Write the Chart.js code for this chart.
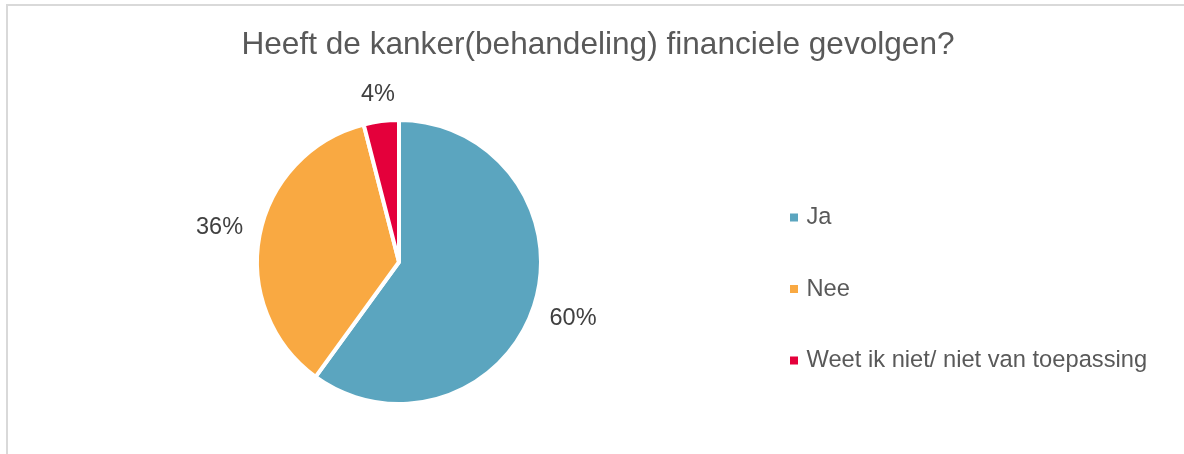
<!DOCTYPE html>
<html lang="nl">
<head>
    <meta charset="UTF-8">
    <title>Heeft de kanker(behandeling) financiele gevolgen?</title>
    <script src="https://cdn.jsdelivr.net/npm/chart.js"></script>
    <style>
        html, body {
            margin: 0;
            padding: 0;
            background: #fff;
        }
        #wrap {
            position: relative;
            width: 1184px;
            height: 454px;
            overflow: hidden;
        }
        /* lichtgrijze kader, loopt door buiten beeld rechts en onder */
        #frame {
            position: absolute;
            left: 6px;
            top: 4px;
            width: 1250px;
            height: 520px;
            border: 2px solid #d9d9d9;
            box-sizing: border-box;
        }
        #financieelChart {
            position: absolute;
            left: 0;
            top: 0;
        }
    </style>
</head>
<body>
    <div id="wrap">
        <div id="frame"></div>
        <canvas id="financieelChart" width="1184" height="454"></canvas>
    </div>

    <script>
        const chartTitle = 'Heeft de kanker(behandeling) financiele gevolgen?';
        const categories = ['Ja', 'Nee', 'Weet ik niet/ niet van toepassing'];
        const percentages = [60, 36, 4];
        const sliceColors = ['#5ba5bf', '#f9a942', '#e4003b'];

        const fontFamily = '"Liberation Sans", Arial, sans-serif';

        // titel, procentlabels buiten de taart en legenda rechts
        const decorations = {
            id: 'decorations',
            afterDraw(chart) {
                const ctx = chart.ctx;
                ctx.save();

                ctx.font = '31.6px ' + fontFamily;
                ctx.fillStyle = '#595959';
                ctx.textAlign = 'center';
                ctx.textBaseline = 'alphabetic';
                ctx.fillText(chartTitle, 598, 54);

                const meta = chart.getDatasetMeta(0);
                ctx.font = '23.5px ' + fontFamily;
                ctx.fillStyle = '#404040';
                ctx.textBaseline = 'middle';
                meta.data.forEach((arc, i) => {
                    const p = arc.getProps(['x', 'y', 'startAngle', 'endAngle', 'outerRadius'], true);
                    const mid = (p.startAngle + p.endAngle) / 2;
                    const text = percentages[i] + '%';
                    const w = ctx.measureText(text).width;
                    const h = 17;
                    const c = Math.cos(mid), s = Math.sin(mid);
                    const d = p.outerRadius + 16 + Math.abs(c) * w / 2 + Math.abs(s) * h / 2;
                    ctx.fillText(text, p.x + c * d, p.y + s * d);
                });

                ctx.font = '23.7px ' + fontFamily;
                ctx.fillStyle = '#595959';
                ctx.textAlign = 'left';
                categories.forEach((cat, i) => {
                    const y = 217.5 + i * 71.5;
                    ctx.fillStyle = sliceColors[i];
                    ctx.fillRect(790, y - 4, 8, 8);
                    ctx.fillStyle = '#595959';
                    ctx.fillText(cat, 806.5, y);
                });

                ctx.restore();
            }
        };

        const ctx = document.getElementById('financieelChart').getContext('2d');
        new Chart(ctx, {
            type: 'pie',
            data: {
                labels: categories,
                datasets: [{
                    data: percentages,
                    backgroundColor: sliceColors,
                    borderColor: '#ffffff',
                    borderWidth: 4
                }]
            },
            options: {
                responsive: false,
                animation: false,
                layout: {
                    padding: { left: 255, right: 641, top: 118, bottom: 48 }
                },
                plugins: {
                    legend: { display: false },
                    title: { display: false },
                    tooltip: { enabled: false }
                }
            },
            plugins: [decorations]
        });
    </script>
</body>
</html>
